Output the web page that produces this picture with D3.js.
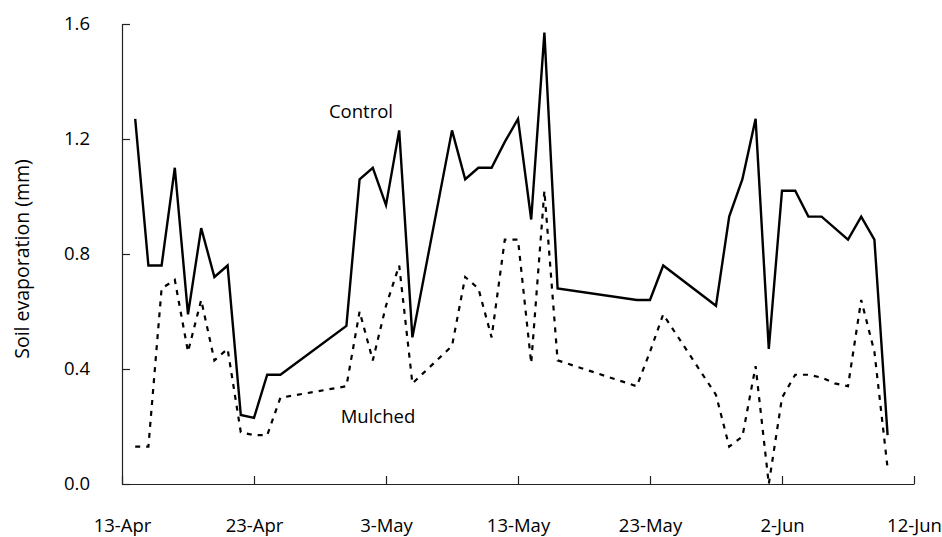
<!DOCTYPE html>
<html>
<head>
<meta charset="utf-8">
<script src="https://cdn.jsdelivr.net/npm/d3@7"></script>
<style>
    body { margin: 0; background: #fff; }
    text { font-family: "Open Sans", sans-serif; fill: #000; }
</style>
</head>
<body>
<div id="chart"></div>
<script>
// 測定日 (両系列共通)
var dates = ["14-Apr", "15-Apr", "16-Apr", "17-Apr", "18-Apr", "19-Apr", "20-Apr", "21-Apr", "22-Apr", "23-Apr", "24-Apr", "25-Apr",
    "30-Apr", "1-May", "2-May", "3-May", "4-May", "5-May", "8-May", "9-May", "10-May", "11-May", "12-May", "13-May", "14-May", "15-May", "16-May",
    "22-May", "23-May", "24-May", "28-May", "29-May", "30-May", "31-May", "1-Jun", "2-Jun", "3-Jun", "4-Jun", "5-Jun", "6-Jun", "7-Jun", "8-Jun", "9-Jun", "10-Jun"];

var control = [1.27, 0.76, 0.76, 1.10, 0.59, 0.89, 0.72, 0.76, 0.24, 0.23, 0.38, 0.38,
    0.55, 1.06, 1.10, 0.97, 1.23, 0.51, 1.23, 1.06, 1.10, 1.10, 1.19, 1.27, 0.92, 1.57, 0.68,
    0.64, 0.64, 0.76, 0.62, 0.93, 1.06, 1.27, 0.47, 1.02, 1.02, 0.93, 0.93, 0.89, 0.85, 0.93, 0.85, 0.17];

var mulched = [0.13, 0.13, 0.68, 0.71, 0.46, 0.64, 0.43, 0.47, 0.18, 0.17, 0.17, 0.30,
    0.34, 0.60, 0.43, 0.62, 0.76, 0.35, 0.48, 0.72, 0.68, 0.51, 0.85, 0.85, 0.42, 1.02, 0.43,
    0.34, 0.46, 0.59, 0.31, 0.13, 0.165, 0.41, 0.0, 0.30, 0.38, 0.38, 0.37, 0.35, 0.34, 0.64, 0.46, 0.055];

var xTicks = ["13-Apr", "23-Apr", "3-May", "13-May", "23-May", "2-Jun", "12-Jun"];
var yTicks = [0.0, 0.4, 0.8, 1.2, 1.6];

var W = 942, H = 537;
var mLeft = 122, mRight = 914, mTop = 24, mBottom = 484;

var parse = d3.timeParse("%d-%b-%Y");
function toDate(s) { return parse(s + "-2010"); }

var x = d3.scaleTime()
    .domain([toDate(xTicks[0]), toDate(xTicks[xTicks.length - 1])])
    .range([mLeft, mRight]);
var y = d3.scaleLinear().domain([0, 1.6]).range([mBottom, mTop]);

var svg = d3.select("#chart").append("svg")
    .attr("width", W).attr("height", H);

// 軸 (目盛りは内向き)
var xAxis = d3.axisBottom(x)
    .tickValues(xTicks.map(toDate))
    .tickFormat(d3.timeFormat("%-d-%b"))
    .tickSizeInner(-8).tickSizeOuter(0).tickPadding(35);
var gx = svg.append("g").attr("transform", "translate(0," + mBottom + ")").call(xAxis);

var yAxis = d3.axisLeft(y)
    .tickValues(yTicks)
    .tickFormat(d3.format(".1f"))
    .tickSizeInner(-8).tickSizeOuter(0).tickPadding(32);
var gy = svg.append("g").attr("transform", "translate(" + mLeft + ",0)").call(yAxis);

svg.selectAll(".domain, .tick line").attr("stroke", "#222").attr("stroke-width", 1.2);
svg.selectAll(".tick text").style("font-size", "18.5px").style("font-family", "Open Sans");

// 系列
function series(vals) {
    return vals.map(function (v, i) { return { d: toDate(dates[i]), v: v }; });
}

var line = d3.line()
    .x(function (p) { return x(p.d); })
    .y(function (p) { return y(p.v); });

svg.append("path")
    .attr("d", line(series(mulched)))
    .attr("fill", "none").attr("stroke", "#000")
    .attr("stroke-width", 2.2).attr("stroke-dasharray", "5,6");

svg.append("path")
    .attr("d", line(series(control)))
    .attr("fill", "none").attr("stroke", "#000")
    .attr("stroke-width", 2.4).attr("stroke-linejoin", "miter");

// ラベル
svg.append("text").attr("x", 361).attr("y", 118)
    .attr("text-anchor", "middle").style("font-size", "18.5px").text("Control");
svg.append("text").attr("x", 378).attr("y", 423)
    .attr("text-anchor", "middle").style("font-size", "18.5px").text("Mulched");

svg.append("text")
    .attr("transform", "translate(29,259) rotate(-90)")
    .attr("text-anchor", "middle").style("font-size", "19.5px")
    .text("Soil evaporation (mm)");
</script>
</body>
</html>
